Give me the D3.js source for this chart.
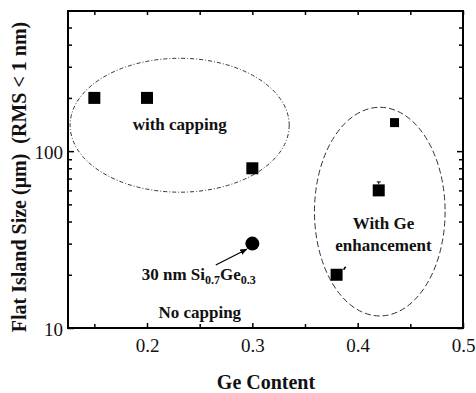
<!DOCTYPE html>
<html>
<head>
<meta charset="utf-8">
<script src="https://cdn.jsdelivr.net/npm/d3@7"></script>
<style>
  body { margin: 0; background: #fff; }
</style>
</head>
<body>
<svg id="chart" width="476" height="393"></svg>
<script>
// ---------------- data ----------------
var cappedX = [0.15, 0.2, 0.3];
var cappedY = [200, 200, 80];

var geX = [0.38, 0.42, 0.435];
var geY = [20, 60, 145];
var geErrTop = [null, 67, null];

var noCapX = [0.3];
var noCapY = [30];

var xMajorTicks = [0.2, 0.3, 0.4, 0.5];
var xMinorTicks = [0.15, 0.25, 0.35, 0.45];
var yMajorTicks = [10, 100];
var yMinorTicks = [20, 30, 40, 50, 60, 70, 80, 90, 200, 300, 400, 500];

// grouping ellipses: [x left, x right, y bottom, y top] in data units
var cappedEllipse = [0.127, 0.335, 58.6, 335];
var geEllipse = [0.359, 0.483, 11.7, 177];

var FONT = "'Liberation Serif', 'Times New Roman', serif";

// ---------------- setup ----------------
var svg = d3.select("#chart");
var plotLeft = 68, plotRight = 463, plotTop = 11, plotBottom = 328;

var xScale = d3.scaleLinear().domain([0.125, 0.5]).range([plotLeft, plotRight]);
var yScale = d3.scaleLog().domain([10, 620]).range([plotBottom, plotTop]);

// ---------------- axes (ticks point inward on all four sides) ----------------
function addAxis(axis, transform, withLabels) {
  var g = svg.append("g").attr("transform", transform).call(axis)
    .attr("font-family", null).attr("font-size", null);
  g.select(".domain").remove();
  g.selectAll("line").attr("stroke", "#000").attr("stroke-width", 1.5);
  g.selectAll("text")
    .style("font-family", FONT)
    .style("font-size", "19px")
    .attr("fill", "#111");
  if (!withLabels) g.selectAll("text").remove();
  return g;
}

addAxis(d3.axisBottom(xScale).tickValues(xMajorTicks).tickSize(-5).tickPadding(11)
          .tickFormat(d3.format(".1f")), "translate(0," + plotBottom + ")", true);
addAxis(d3.axisBottom(xScale).tickValues(xMinorTicks).tickSize(-4), "translate(0," + plotBottom + ")", false);
addAxis(d3.axisTop(xScale).tickValues(xMajorTicks.concat(xMinorTicks)).tickSize(-4), "translate(0," + plotTop + ")", false);

addAxis(d3.axisLeft(yScale).tickValues(yMajorTicks).tickSize(-6).tickPadding(5)
          .tickFormat(d3.format("d")), "translate(" + plotLeft + ",0)", true)
  .selectAll("text").attr("dy", "0.4em");
addAxis(d3.axisLeft(yScale).tickValues(yMinorTicks).tickSize(-4), "translate(" + plotLeft + ",0)", false);
addAxis(d3.axisRight(yScale).tickValues(yMajorTicks).tickSize(-6), "translate(" + plotRight + ",0)", false);
addAxis(d3.axisRight(yScale).tickValues(yMinorTicks).tickSize(-4), "translate(" + plotRight + ",0)", false);

// frame
svg.append("rect")
  .attr("x", plotLeft).attr("y", plotTop)
  .attr("width", plotRight - plotLeft).attr("height", plotBottom - plotTop)
  .attr("fill", "none").attr("stroke", "#000").attr("stroke-width", 2);

// axis titles
svg.append("text")
  .attr("x", 266).attr("y", 389)
  .attr("text-anchor", "middle")
  .style("font-family", FONT).style("font-size", "20px").style("font-weight", "bold")
  .attr("fill", "#111")
  .text("Ge Content");

svg.append("text")
  .attr("transform", "translate(26," + 177 + ") rotate(-90)")
  .attr("text-anchor", "middle")
  .style("font-family", FONT).style("font-size", "20px").style("font-weight", "bold")
  .style("white-space", "pre")
  .attr("fill", "#111")
  .text("Flat Island Size (\u03bcm)  (RMS < 1 nm)");

// ---------------- ellipses ----------------
function drawEllipse(b, dash) {
  var x0 = xScale(b[0]), x1 = xScale(b[1]);
  var y0 = yScale(b[2]), y1 = yScale(b[3]);
  svg.append("ellipse")
    .attr("cx", (x0 + x1) / 2).attr("cy", (y0 + y1) / 2)
    .attr("rx", (x1 - x0) / 2).attr("ry", (y0 - y1) / 2)
    .attr("fill", "none").attr("stroke", "#333").attr("stroke-width", 1)
    .attr("stroke-dasharray", dash);
}
drawEllipse(cappedEllipse, "4,2,1,2");
drawEllipse(geEllipse, "6,3");

// ---------------- markers ----------------
function squares(xs, ys, sizeFor) {
  svg.append("g").selectAll("rect")
    .data(xs.map(function(d, i) { return [d, ys[i], i]; }))
    .enter().append("rect")
      .attr("x", function(d) { return xScale(d[0]) - sizeFor(d[2]) / 2; })
      .attr("y", function(d) { return yScale(d[1]) - sizeFor(d[2]) / 2; })
      .attr("width", function(d) { return sizeFor(d[2]); })
      .attr("height", function(d) { return sizeFor(d[2]); })
      .attr("fill", "#000");
}
squares(cappedX, cappedY, function(i) { return 12; });
squares(geX, geY, function(i) { return i == 2 ? 9 : 12; });

// small error caps
geErrTop.forEach(function(e, i) {
  if (e == null) return;
  var cx = xScale(geX[i]);
  svg.append("line").attr("x1", cx).attr("x2", cx)
    .attr("y1", yScale(geY[i]) - 6).attr("y2", yScale(e))
    .attr("stroke", "#000").attr("stroke-width", 1);
  svg.append("line").attr("x1", cx - 2).attr("x2", cx + 2)
    .attr("y1", yScale(e)).attr("y2", yScale(e))
    .attr("stroke", "#000").attr("stroke-width", 1);
});

// little slanted stroke at the corner of the 0.38 square
svg.append("line")
  .attr("x1", xScale(geX[0]) + 7).attr("y1", yScale(geY[0]) - 5)
  .attr("x2", xScale(geX[0]) + 9).attr("y2", yScale(geY[0]) - 8)
  .attr("stroke", "#000").attr("stroke-width", 1.5);

svg.append("g").selectAll("circle")
  .data(noCapX.map(function(d, i) { return [d, noCapY[i]]; }))
  .enter().append("circle")
    .attr("cx", function(d) { return xScale(d[0]); })
    .attr("cy", function(d) { return yScale(d[1]); })
    .attr("r", 7)
    .attr("fill", "#000");

// ---------------- annotations ----------------
svg.append("defs").append("marker")
  .attr("id", "arrow").attr("viewBox", "0 0 10 10")
  .attr("refX", 9).attr("refY", 5)
  .attr("markerWidth", 6).attr("markerHeight", 6)
  .attr("orient", "auto")
  .append("path").attr("d", "M0,1 L10,5 L0,9 Z").attr("fill", "#000");

svg.append("line")
  .attr("x1", xScale(0.2653)).attr("y1", yScale(22.7))
  .attr("x2", xScale(0.2947)).attr("y2", yScale(27.9))
  .attr("stroke", "#000").attr("stroke-width", 1.2)
  .attr("marker-end", "url(#arrow)");

function label(x, y, txt, anchor) {
  return svg.append("text")
    .attr("x", xScale(x)).attr("y", yScale(y))
    .attr("text-anchor", anchor || "middle")
    .style("font-family", FONT).style("font-size", "17px").style("font-weight", "bold")
    .attr("fill", "#111")
    .text(txt);
}
label(0.231, 131, "with capping");
label(0.4245, 36.2, "With Ge");
label(0.4245, 27.2, "enhancement");
label(0.2501, 11.4, "No capping");

var sige = svg.append("text")
  .attr("x", xScale(0.195)).attr("y", yScale(18.7))
  .style("font-family", FONT).style("font-size", "17px").style("font-weight", "bold")
  .attr("fill", "#111");
sige.append("tspan").text("30 nm Si");
sige.append("tspan").attr("dy", 4).style("font-size", "12px").text("0.7");
sige.append("tspan").attr("dy", -4).text("Ge");
sige.append("tspan").attr("dy", 4).style("font-size", "12px").text("0.3");
</script>
</body>
</html>
